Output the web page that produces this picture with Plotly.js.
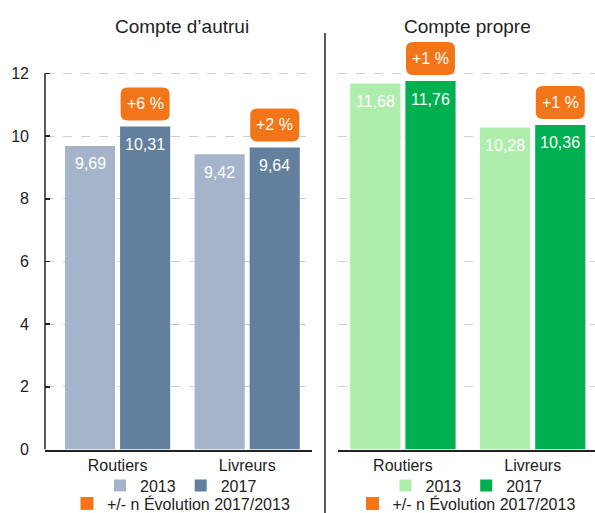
<!DOCTYPE html>
<html>
<head>
<meta charset="utf-8">
<script src="https://cdn.plot.ly/plotly-3.0.1.min.js"></script>
<style>
  html, body { margin: 0; padding: 0; background: #fff; overflow: hidden; }
  #chart { width: 595px; height: 513px; }
</style>
</head>
<body>
<div id="chart"></div>
<script>
// ---- data ----
const categories = ['Routiers', 'Livreurs'];
const years = ['2013', '2017'];
const autrui2013 = [9.69, 9.42];
const autrui2017 = [10.31, 9.64];
const propre2013 = [11.68, 10.28];
const propre2017 = [11.76, 10.36];
const evolAutrui = ['+6 %', '+2 %'];
const evolPropre = ['+1 %', '+1 %'];
const panelTitles = ['Compte d\u2019autrui', 'Compte propre'];
const evolLabel = '+/- n \u00c9volution 2017/2013';
const yTickVals = [0, 2, 4, 6, 8, 10, 12];

// ---- style ----
const W = 595, H = 513;
const FONT = 'Liberation Sans, Arial, Helvetica, sans-serif';
const TXT = '#222222';
const C_AUTRUI = ['#A5B4CA', '#62809E'];
const C_PROPRE = ['#AEEDAB', '#00B050'];
const ORANGE = '#F27619';
const BARGAP = 0.15, BARGROUPGAP = 0.09;
const OFF = (1 - BARGAP) / 4;            // bar center offset within group
const fmt = v => v.toFixed(2).replace('.', ',');
const px = v => v / W;                   // pixel -> paper x
const py = v => 1 - v / H;               // pixel -> paper y

const panels = [
  {xa: 'x', ya: 'y', s13: autrui2013, s17: autrui2017, evol: evolAutrui, colors: C_AUTRUI,
   legA: 'legend', legB: 'legend2', title: panelTitles[0], titleX: 181.5, legX: 181},
  {xa: 'x2', ya: 'y2', s13: propre2013, s17: propre2017, evol: evolPropre, colors: C_PROPRE,
   legA: 'legend3', legB: 'legend4', title: panelTitles[1], titleX: 467.5, legX: 466.5}
];

const traces = [];
const annotations = [];
const shapes = [];

function badgePath(hw, b, t, r) {
  const L = -hw, R = hw;
  return `M${L + r},${b} L${R - r},${b} Q${R},${b} ${R},${b + r} L${R},${t - r} Q${R},${t} ${R - r},${t} ` +
         `L${L + r},${t} Q${L},${t} ${L},${t - r} L${L},${b + r} Q${L},${b} ${L + r},${b} Z`;
}

panels.forEach(p => {
  [p.s13, p.s17].forEach((vals, s) => {
    traces.push({
      type: 'bar', x: categories, y: vals, name: years[s],
      xaxis: p.xa, yaxis: p.ya, legend: p.legA,
      marker: {color: p.colors[s]}, hoverinfo: 'skip'
    });
    vals.forEach((v, i) => {
      const xc = i + (s === 0 ? -OFF : OFF);
      annotations.push({
        xref: p.xa, yref: p.ya, x: xc, y: v, yshift: -18,
        text: fmt(v), showarrow: false, xanchor: 'center', yanchor: 'middle',
        font: {family: FONT, size: 16, color: '#ffffff'}
      });
      if (s === 1) {
        shapes.push({
          type: 'path', xref: p.xa, yref: p.ya,
          xsizemode: 'pixel', ysizemode: 'pixel', xanchor: xc, yanchor: v,
          path: badgePath(24.5, 6, 39, 7),
          fillcolor: ORANGE, line: {width: 0}, layer: 'above'
        });
        annotations.push({
          xref: p.xa, yref: p.ya, x: xc, y: v, yshift: 22.5,
          text: p.evol[i], showarrow: false, xanchor: 'center', yanchor: 'middle',
          font: {family: FONT, size: 16, color: '#ffffff'}
        });
      }
    });
  });
  traces.push({
    type: 'scatter', mode: 'markers', x: [null], y: [null], name: evolLabel,
    xaxis: p.xa, yaxis: p.ya, legend: p.legB,
    marker: {symbol: 'square', size: 13, color: ORANGE}, hoverinfo: 'skip'
  });
  annotations.push({
    xref: 'paper', yref: 'paper', x: px(p.titleX), y: py(26),
    text: p.title, showarrow: false, xanchor: 'center', yanchor: 'middle',
    font: {family: FONT, size: 19, color: TXT}
  });
});

// left y-axis line (from 0 to 12 only)
shapes.push({
  type: 'line', xref: 'x domain', yref: 'y', x0: 0, x1: 0, y0: 0, y1: 12,
  line: {color: TXT, width: 1.5}, layer: 'above'
});
// vertical divider between panels
shapes.push({
  type: 'line', xref: 'paper', yref: 'paper', x0: px(325), x1: px(325), y0: 0, y1: py(33),
  line: {color: TXT, width: 1.5}
});

const yDomain = [py(449.5), py(35.9)];
const yRange = [0, 13.2];
const baseX = {
  type: 'category', showline: true, linecolor: TXT, linewidth: 2, ticks: '',
  tickfont: {family: FONT, size: 16, color: TXT}, showgrid: false, zeroline: false,
  fixedrange: true
};
const baseY = {
  range: yRange, domain: yDomain, tickvals: yTickVals, showgrid: true,
  gridcolor: '#cfcfcf', griddash: 'dash', gridwidth: 1, zeroline: false,
  showline: false, fixedrange: true
};

const legendBase = {
  orientation: 'h', xanchor: 'center', yanchor: 'middle', bgcolor: 'rgba(0,0,0,0)',
  font: {family: FONT, size: 16, color: TXT}, borderwidth: 0, itemclick: false, itemdoubleclick: false
};

const layout = {
  width: W, height: H,
  margin: {l: 0, r: 0, t: 0, b: 0, pad: 0, autoexpand: false},
  paper_bgcolor: '#ffffff', plot_bgcolor: '#ffffff',
  font: {family: FONT, size: 16, color: TXT},
  barmode: 'group', bargap: BARGAP, bargroupgap: BARGROUPGAP,
  showlegend: true,
  xaxis: Object.assign({}, baseX, {domain: [px(45), px(312)], range: [-0.56, 1.50], anchor: 'y'}),
  xaxis2: Object.assign({}, baseX, {domain: [px(338), px(595)], range: [-0.5, 1.48], anchor: 'y2'}),
  yaxis: Object.assign({}, baseY, {
    anchor: 'x', ticks: 'inside', ticklen: 5, tickwidth: 1.5, tickcolor: TXT,
    showticklabels: true, tickfont: {family: FONT, size: 16, color: TXT}, ticklabelstandoff: 15
  }),
  yaxis2: Object.assign({}, baseY, {anchor: 'x2', ticks: '', showticklabels: false}),
  legend: Object.assign({}, legendBase, {x: px(panels[0].legX), y: py(485.5)}),
  legend2: Object.assign({}, legendBase, {x: px(panels[0].legX), y: py(503.5)}),
  legend3: Object.assign({}, legendBase, {x: px(panels[1].legX), y: py(485.5)}),
  legend4: Object.assign({}, legendBase, {x: px(panels[1].legX), y: py(503.5)}),
  annotations: annotations,
  shapes: shapes
};

Plotly.newPlot('chart', traces, layout, {displayModeBar: false, staticPlot: true});
</script>
</body>
</html>
